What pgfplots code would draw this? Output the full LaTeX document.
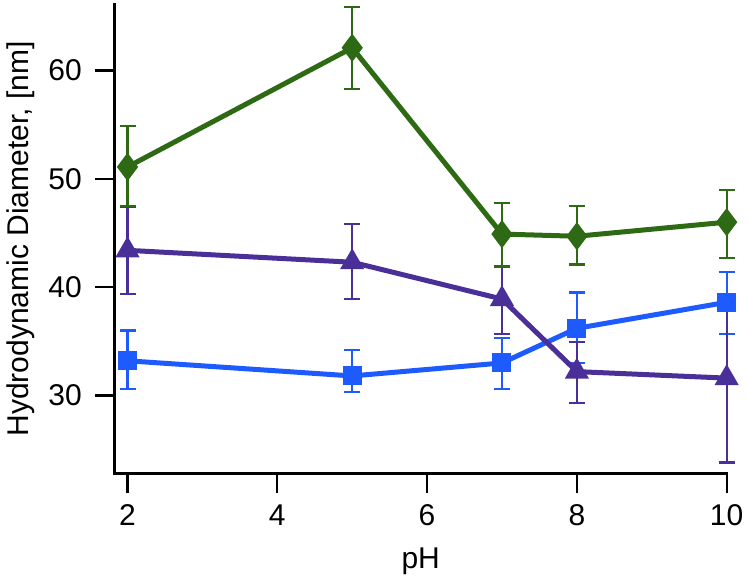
\documentclass[border=0pt]{standalone}
\usepackage{pgfplots}
\pgfplotsset{compat=1.18}
\usepackage{pgfplotstable}
\usepackage{fontspec}
\setmainfont{Liberation Sans}
\definecolor{cgreen}{HTML}{2E6A14}
\definecolor{cpurple}{HTML}{4B2F98}
\definecolor{cblue}{HTML}{1E5BFF}
\pgfplotstableread{
x y ep em
2 51.1 3.8 3.6
5 62.1 3.8 3.8
7 44.9 2.9 3.0
8 44.7 2.8 2.6
10 46.0 3.0 3.3
}\green
\pgfplotstableread{
x y ep em
2 43.4 4.0 4.0
5 42.3 3.5 3.4
7 38.9 3.0 3.2
8 32.2 2.7 2.9
10 31.6 7.0 7.8
}\purple
\pgfplotstableread{
x y ep em
2 33.2 2.8 2.6
5 31.8 2.4 1.5
7 33.0 2.3 2.4
8 36.2 3.3 3.2
10 38.6 2.8 2.9
}\blue
\begin{document}
\begin{tikzpicture}
\begin{axis}[
  scale only axis, width=306pt, height=234.5pt,
  xmin=1.83, xmax=10, ymin=22.8, ymax=66.1,
  axis x line=bottom, axis y line=left,
  axis line style={-, line width=1.5pt, line cap=rect},
  tick align=outside, major tick length=10pt,
  tick style={line width=1.1pt, black},
  xtick={2,4,6,8,10}, ytick={30,40,50,60},
  /pgf/number format/assume math mode=true,
  tick label style={font=\fontsize{15}{18}\selectfont},
  yticklabel style={xshift=-3pt},
  xticklabel style={yshift=-2pt},
  label style={font=\fontsize{15}{18}\selectfont},
  xlabel={pH}, ylabel={Hydrodynamic Diameter, [nm]},
  xlabel style={yshift=-4pt},
  clip=false,
  every axis plot/.append style={line width=2.5pt},
  error bars/error bar style={line width=1.1pt},
  error bars/error mark options={rotate=90, mark size=4pt, line width=1.1pt},
]
\addplot[color=cblue, mark=square*, mark size=3.5pt,
  error bars/.cd, y dir=both, y explicit]
  table[x=x, y=y, y error plus=ep, y error minus=em]{\blue};
\addplot[color=cpurple, mark=triangle*, mark size=4.5pt,
  error bars/.cd, y dir=both, y explicit]
  table[x=x, y=y, y error plus=ep, y error minus=em]{\purple};
\addplot[color=cgreen, mark=diamond*, mark size=5pt,
  error bars/.cd, y dir=both, y explicit]
  table[x=x, y=y, y error plus=ep, y error minus=em]{\green};
\end{axis}
\end{tikzpicture}
\end{document}
